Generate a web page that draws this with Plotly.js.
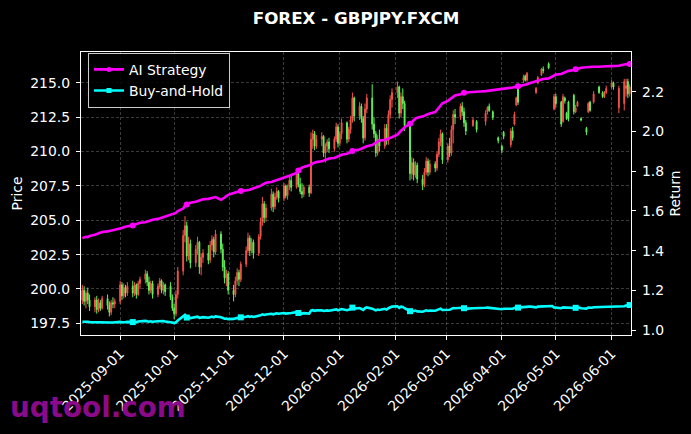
<!DOCTYPE html>
<html><head><meta charset="utf-8">
<script src="https://cdn.plot.ly/plotly-3.0.1.min.js"></script>
<style>html,body{margin:0;padding:0;background:#000;}#chart{width:691px;height:434px;}</style>
</head><body><div id="chart"></div>
<script>
// ---- data (weekday candles from 2025-08-11, one row per week Mon..Fri) ----
const firstDay = '2025-08-11';
const dayCount = 219;

const openP = [
199.2,199.9,199.1,199.7,199.2, 198.7,199.2,198.5,199.0,198.6, 199.3,198.8,198.3,199.0,198.9,
199.1,200.3,199.5,200.1,199.7, 200.2,199.7,200.3,199.6,200.4, 200.7,201.1,200.5,199.9,200.4,
199.6,200.2,200.6,199.9,200.3, 200.2,199.4,198.6,198.2,199.6, 201.3,203.9,204.6,202.4,203.3,
201.9,202.9,203.4,201.6,202.3, 202.6,202.1,203.2,203.6,202.7, 204.0,202.9,201.6,200.8,201.1,
199.9,199.6,200.6,201.2,200.7, 201.8,202.8,203.7,202.8,203.4, 202.6,203.8,204.9,206.2,205.2,
205.9,206.9,206.0,206.7,207.1, 206.6,207.5,206.8,207.4,207.9, 207.4,208.4,207.6,207.1,206.9,
207.4,207.0,210.9,211.3,210.4, 210.9,211.1,209.9,210.4,210.7, 210.2,210.9,211.8,210.6,211.3,
212.1,210.9,211.6,212.3,213.9, 212.6,213.3,212.4,211.0,213.1, 213.9,212.0,211.3,209.9,210.9,
210.4,211.7,210.8,212.7,213.8, 214.3,214.7,212.8,214.0,213.5, 211.9,208.4,209.2,208.3,209.0,
208.0,207.6,208.5,209.3,208.5, 209.1,208.8,209.8,210.7,211.3, 209.4,210.4,209.9,211.6,212.7,
212.5,213.3,212.9,212.1,null, 211.9,null,212.2,null,null, 212.2,212.9,213.3,null,212.9,
211.0,null,210.4,211.4,null, 210.5,211.5,212.0,213.4,214.6, 215.2,215.5,215.2,null,null,
214.3,215.0,null,215.6,216.0, 216.4,null,null,213.1,214.0, 213.6,212.2,213.9,212.8,213.6,
214.1,212.9,213.3,null,212.4, 211.7,212.9,213.6,null,213.6, 214.7,null,214.3,214.0,214.3,
214.7,215.0,null,null,213.2, 213.5,214.6,215.1,214.2];

const highP = [
200.3,200.2,199.9,200.1,199.6, 199.4,199.5,199.3,199.2,199.5, 199.6,199.1,199.2,199.4,199.3,
200.6,200.5,200.4,200.3,200.5, 200.6,200.5,200.4,200.6,200.9, 201.4,201.3,200.9,200.6,200.6,
200.4,200.8,200.7,200.5,200.4, 200.5,199.6,198.9,199.9,201.6, 204.3,205.3,204.9,203.8,203.6,
203.2,203.8,203.5,202.6,202.9, 203.2,203.5,203.9,203.8,204.3, 204.2,203.3,202.1,201.4,201.3,
200.3,200.9,201.5,201.4,202.0, 203.1,204.1,203.9,203.7,203.6, 204.0,205.2,206.7,206.4,206.2,
207.3,207.1,207.0,207.4,207.2, 207.7,207.6,207.6,208.2,208.3, 208.7,208.6,208.1,207.7,207.6,
207.6,211.4,211.6,211.5,211.2, 211.4,211.2,210.6,210.9,211.0, 211.1,212.1,212.0,211.5,212.4,
212.2,211.8,212.6,214.3,214.0, 213.6,213.5,212.6,213.5,214.2, 214.9,212.5,211.5,211.2,211.6,
212.0,212.0,213.0,214.1,214.6, 215.1,214.8,214.3,214.6,213.7, 212.1,209.6,209.5,209.3,209.2,
208.3,208.8,209.6,209.5,209.4, 209.3,210.0,211.0,211.6,211.4, 210.6,211.0,211.9,213.0,213.1,
213.5,213.6,213.2,212.3,null, 212.5,null,212.3,null,null, 213.0,213.3,213.5,null,213.0,
211.1,null,210.5,211.5,null, 211.7,211.8,212.9,214.0,214.7, 215.6,215.6,215.8,null,null,
214.7,215.5,null,216.1,216.2, 216.5,null,null,214.2,214.2, 213.7,214.2,214.0,212.9,213.7,
214.2,213.4,213.7,null,212.5, 211.8,213.6,213.7,null,214.4, 214.8,null,214.4,214.4,214.8,
215.2,215.1,null,null,214.8, 215.3,215.3,215.3,214.9];

const lowP = [
198.9,198.8,198.6,198.9,198.4, 198.3,198.2,198.3,198.4,198.5, 198.5,198.0,198.1,198.6,198.6,
198.9,199.2,199.3,199.4,199.5, 199.4,199.5,199.3,199.5,200.0, 200.4,200.2,199.6,199.7,199.3,
199.4,200.0,199.7,199.6,199.5, 199.2,198.4,197.8,198.0,199.3, 201.0,203.4,202.0,202.1,201.5,
201.6,202.5,201.1,201.0,201.9, 201.8,201.9,202.8,202.3,202.5, 202.6,201.3,200.4,200.2,199.6,
199.1,199.4,200.3,200.2,200.5, 201.6,202.6,202.4,202.6,202.2, 202.4,203.6,204.6,204.8,204.9,
205.7,205.6,205.8,206.5,206.3, 206.4,206.6,206.5,207.2,207.1, 207.3,207.4,206.9,206.6,206.7,
206.7,206.9,210.2,210.1,210.2, 210.4,209.6,209.2,210.0,209.9, 210.0,210.7,210.3,210.4,210.9,
210.6,210.7,211.3,212.1,212.2, 212.3,212.1,210.6,210.8,212.8, 211.6,211.0,209.6,209.7,210.0,
210.2,210.5,210.5,212.4,213.2, 213.9,212.4,212.5,213.1,211.5, 207.9,208.0,207.9,208.1,207.7,
207.2,207.4,208.3,208.2,208.3, 208.5,208.6,209.6,210.4,209.1, 209.2,209.6,209.7,210.6,212.0,
212.3,212.6,211.8,211.2,null, 211.8,null,211.4,null,null, 211.9,212.7,212.9,null,212.3,
210.6,null,209.9,210.9,null, 210.3,210.8,211.9,213.3,213.4, 215.0,215.1,215.1,null,null,
214.2,214.9,null,215.5,215.7, 216.0,null,null,213.0,213.2, 211.8,212.1,213.5,212.3,212.2,
212.7,212.8,213.3,null,212.2, 211.2,212.8,212.9,null,213.5, 214.2,null,213.9,213.9,214.2,
214.6,214.5,null,null,212.8, 213.0,214.0,213.9,214.0];

const closeP = [
199.9,199.1,199.7,199.2,198.7, 199.2,198.5,199.0,198.6,199.3, 198.8,198.3,199.0,198.9,199.1,
200.3,199.5,200.1,199.7,200.2, 199.7,200.3,199.6,200.4,200.7, 201.1,200.5,199.9,200.4,199.6,
200.2,200.6,199.9,200.3,199.8, 199.4,198.6,198.2,199.6,201.3, 203.9,204.6,202.4,203.3,201.9,
202.9,203.4,201.6,202.3,202.6, 202.1,203.2,203.6,202.7,204.0, 202.9,201.6,200.8,201.1,199.9,
199.6,200.6,201.2,200.7,201.8, 202.8,203.7,202.8,203.4,202.6, 203.8,204.9,206.2,205.2,205.9,
206.9,206.0,206.7,207.1,206.6, 207.5,206.8,207.4,207.9,207.4, 208.4,207.6,207.1,206.9,207.4,
207.0,210.9,211.3,210.4,210.9, 211.1,209.9,210.4,210.7,210.2, 210.9,211.8,210.6,211.3,212.1,
210.9,211.6,212.3,213.9,212.6, 213.3,212.4,211.0,213.1,213.9, 212.0,211.3,209.9,210.9,210.4,
211.7,210.8,212.7,213.8,214.3, 214.7,212.8,214.0,213.5,211.9, 208.4,209.2,208.3,209.0,208.0,
207.6,208.5,209.3,208.5,209.1, 208.8,209.8,210.7,211.3,209.4, 210.4,209.9,211.6,212.7,212.5,
213.3,212.9,212.1,211.5,null, 212.3,null,211.6,null,null, 212.8,213.2,213.0,null,212.5,
210.8,null,210.1,211.1,null, 211.5,211.0,212.7,213.9,213.6, 215.4,215.2,215.7,null,null,
214.6,215.4,null,216.0,215.9, 216.1,null,null,214.0,213.5, 212.0,214.0,213.7,212.4,212.4,
212.9,213.2,213.6,null,212.3, 211.4,213.5,213.0,null,214.2, 214.3,null,214.0,214.3,214.6,
215.0,214.7,null,null,214.6, 215.1,214.8,214.2,214.7];

const aiStrategy = [
1.463,1.466,1.470,1.468,1.474, 1.480,1.484,1.487,1.491,1.494, 1.497,1.499,1.502,1.505,1.507,
1.510,1.514,1.518,1.521,1.523, 1.527,1.531,1.534,1.537,1.541, 1.543,1.546,1.549,1.553,1.556,
1.560,1.563,1.566,1.569,1.573, 1.578,1.581,1.585,1.590,1.600, 1.612,1.628,1.632,1.638,1.641,
1.646,1.650,1.654,1.657,1.659, 1.661,1.663,1.665,1.668,1.670, 1.656,1.660,1.668,1.675,1.681,
1.690,1.694,1.696,1.698,1.700, 1.702,1.704,1.707,1.711,1.714, 1.720,1.726,1.733,1.738,1.742,
1.746,1.749,1.752,1.755,1.758, 1.764,1.768,1.772,1.777,1.781, 1.792,1.804,1.813,1.818,1.822,
1.828,1.833,1.840,1.843,1.846, 1.850,1.853,1.856,1.860,1.864, 1.867,1.872,1.876,1.879,1.883,
1.888,1.893,1.898,1.902,1.906, 1.910,1.915,1.919,1.923,1.926, 1.932,1.938,1.944,1.950,1.955,
1.958,1.961,1.964,1.967,1.972, 1.985,1.996,2.004,2.012,2.022, 2.040,2.050,2.058,2.065,2.070,
2.074,2.079,2.084,2.088,2.091, 2.098,2.110,2.122,2.132,2.143, 2.155,2.163,2.170,2.177,2.182,
2.188,2.194,2.196,2.197,2.198, 2.199,2.200,2.200,2.201,2.202, 2.204,2.205,2.207,2.208,2.210,
2.212,2.213,2.214,2.216,2.218, 2.220,2.222,2.224,2.226,2.229, 2.232,2.235,2.239,2.242,2.245,
2.250,2.255,2.259,2.262,2.265, 2.268,2.273,2.278,2.283,2.287, 2.290,2.293,2.297,2.302,2.306,
2.310,2.314,2.318,2.320,2.322, 2.324,2.325,2.326,2.326,2.327, 2.327,2.328,2.328,2.329,2.329,
2.330,2.330,2.331,2.331,2.332, 2.338,2.340,2.341,2.341];

const buyHold = [
1.042,1.043,1.041,1.042,1.040, 1.039,1.037,1.038,1.037,1.039, 1.038,1.036,1.038,1.038,1.039,
1.041,1.039,1.041,1.040,1.041, 1.040,1.042,1.040,1.043,1.044, 1.046,1.044,1.042,1.044,1.042,
1.044,1.045,1.043,1.045,1.043, 1.041,1.038,1.035,1.039,1.048, 1.068,1.076,1.063,1.066,1.060,
1.064,1.067,1.061,1.063,1.065, 1.062,1.066,1.068,1.064,1.069, 1.064,1.060,1.057,1.058,1.055,
1.056,1.058,1.061,1.059,1.064, 1.067,1.070,1.066,1.069,1.066, 1.070,1.074,1.079,1.076,1.078,
1.082,1.079,1.082,1.084,1.082, 1.086,1.083,1.085,1.087,1.086, 1.090,1.086,1.084,1.083,1.085,
1.083,1.098,1.100,1.097,1.099, 1.100,1.096,1.098,1.099,1.097, 1.100,1.104,1.099,1.102,1.106,
1.100,1.103,1.106,1.113,1.108, 1.111,1.108,1.101,1.110,1.114, 1.108,1.105,1.099,1.103,1.101,
1.107,1.103,1.110,1.115,1.118, 1.120,1.112,1.118,1.116,1.110, 1.095,1.099,1.095,1.098,1.094,
1.092,1.095,1.099,1.096,1.098, 1.097,1.101,1.104,1.108,1.101, 1.104,1.102,1.107,1.111,1.110,
1.114,1.112,1.110,1.108,1.108, 1.110,1.110,1.109,1.109,1.109, 1.112,1.113,1.112,1.112,1.111,
1.106,1.106,1.105,1.107,1.107, 1.107,1.107,1.111,1.114,1.113, 1.117,1.116,1.118,1.118,1.118,
1.114,1.118,1.118,1.120,1.120, 1.121,1.121,1.121,1.114,1.113, 1.110,1.114,1.113,1.112,1.112,
1.111,1.112,1.113,1.113,1.110, 1.108,1.113,1.112,1.112,1.115, 1.116,1.116,1.115,1.116,1.117,
1.118,1.117,1.117,1.117,1.116, 1.120,1.123,1.124,1.126];

const xTicks = ['2025-09-01','2025-10-01','2025-11-01','2025-12-01','2026-01-01',
                '2026-02-01','2026-03-01','2026-04-01','2026-05-01','2026-06-01'];
const priceTicks = [197.5,200.0,202.5,205.0,207.5,210.0,212.5,215.0];
const returnTicks = [1.0,1.2,1.4,1.6,1.8,2.0,2.2];

// ---- build the weekday calendar ----
const dates = [];
(function(){
  const d = new Date(firstDay + 'T00:00:00Z');
  while (dates.length < dayCount) {
    const wd = d.getUTCDay();
    if (wd !== 0 && wd !== 6) dates.push(d.toISOString().slice(0,10));
    d.setUTCDate(d.getUTCDate() + 1);
  }
})();

const keep = dates.map((_, i) => i).filter(i => openP[i] !== null);
const pick = (arr, idx) => idx.map(i => arr[i]);
const markIdx = dates.map((_, i) => i).filter(i => i >= 20 && (i - 20) % 22 === 0);

const RED = '#f4544a', GREEN = '#62f25a', MAG = '#ff00ff', CYA = '#00ffff';
const FONT = 'DejaVu Sans, sans-serif';

const traces = [
  {type:'candlestick', x: pick(dates, keep), open: pick(openP, keep), high: pick(highP, keep),
   low: pick(lowP, keep), close: pick(closeP, keep), xaxis:'x', yaxis:'y', showlegend:false,
   whiskerwidth:0,
   increasing:{line:{color:RED, width:1}, fillcolor:RED},
   decreasing:{line:{color:GREEN, width:1}, fillcolor:GREEN}, hoverinfo:'skip'},
  {type:'scatter', mode:'lines', x: dates, y: aiStrategy, yaxis:'y2', showlegend:false,
   line:{color:MAG, width:2.6}, hoverinfo:'skip'},
  {type:'scatter', mode:'lines', x: dates, y: buyHold, yaxis:'y2', showlegend:false,
   line:{color:CYA, width:2.6}, hoverinfo:'skip'},
  {type:'scatter', mode:'markers', x: pick(dates, markIdx), y: pick(aiStrategy, markIdx), yaxis:'y2',
   showlegend:false, marker:{color:MAG, size:6, symbol:'circle'}, hoverinfo:'skip'},
  {type:'scatter', mode:'markers', x: pick(dates, markIdx), y: pick(buyHold, markIdx), yaxis:'y2',
   showlegend:false, marker:{color:CYA, size:6, symbol:'square'}, hoverinfo:'skip'},
  {type:'scatter', mode:'lines+markers', x: [null], y: [null], yaxis:'y2', name:'AI Strategy',
   line:{color:MAG, width:2.6}, marker:{color:MAG, size:5, symbol:'circle'}},
  {type:'scatter', mode:'lines+markers', x: [null], y: [null], yaxis:'y2', name:'Buy-and-Hold',
   line:{color:CYA, width:2.6}, marker:{color:CYA, size:5, symbol:'square'}}
];

const axisCommon = {
  color:'#ffffff', linecolor:'#ffffff', linewidth:1.2, showline:true,
  ticks:'outside', ticklen:4, tickwidth:1, tickcolor:'#ffffff',
  tickfont:{family:FONT, size:13.9, color:'#ffffff'}, zeroline:false
};

const layout = {
  width:691, height:434,
  paper_bgcolor:'#000000', plot_bgcolor:'#000000',
  margin:{l:81, r:60, t:52, b:99},
  font:{family:FONT, color:'#ffffff', size:13.9},
  title:{text:'FOREX - GBPJPY.FXCM', x:0.5, xref:'paper', xanchor:'center',
         y:1-18/434, yref:'container', yanchor:'middle',
         font:{family:FONT, size:16.7, color:'#ffffff', weight:'bold'}},
  xaxis: Object.assign({}, axisCommon, {
    type:'date', range:['2025-08-10 06:00','2026-06-11 18:00'],
    tickvals: xTicks, ticktext: xTicks, tickangle:-45, mirror:true,
    showgrid:true, gridcolor:'rgba(150,150,150,0.55)', gridwidth:0.7, griddash:'3px,2px',
    rangeslider:{visible:false}
  }),
  yaxis: Object.assign({}, axisCommon, {
    range:[196.65, 217.25], tickvals: priceTicks, tickformat:'.1f', mirror:true,
    ticklabelstandoff:3,
    showgrid:true, gridcolor:'rgba(150,150,150,0.55)', gridwidth:0.7, griddash:'3px,2px',
    title:{text:'Price', font:{family:FONT, size:13.9, color:'#ffffff'}, standoff:4}
  }),
  yaxis2: Object.assign({}, axisCommon, {
    overlaying:'y', side:'right', range:[0.975, 2.401], tickvals: returnTicks, tickformat:'.1f',
    showgrid:false, ticklabelstandoff:3,
    title:{text:'Return', font:{family:FONT, size:13.9, color:'#ffffff'}, standoff:7}
  }),
  legend:{x:0.0127, y:0.997, xanchor:'left', yanchor:'top', bgcolor:'rgba(0,0,0,0.85)',
          bordercolor:'#cccccc', borderwidth:1, font:{family:FONT, size:13.9, color:'#ffffff'},
          traceorder:'normal', tracegroupgap:0},
  annotations:[{text:'<b>uqtool.com</b>', xref:'paper', yref:'paper', x:(8-81)/550, y:(335-407)/283,
                xanchor:'left', yanchor:'middle', showarrow:false,
                font:{family:FONT, size:27.8, color:'#8a0a8a'}}],
  showlegend:true
};

Plotly.newPlot('chart', traces, layout, {displayModeBar:false, staticPlot:true});
</script>
</body></html>
